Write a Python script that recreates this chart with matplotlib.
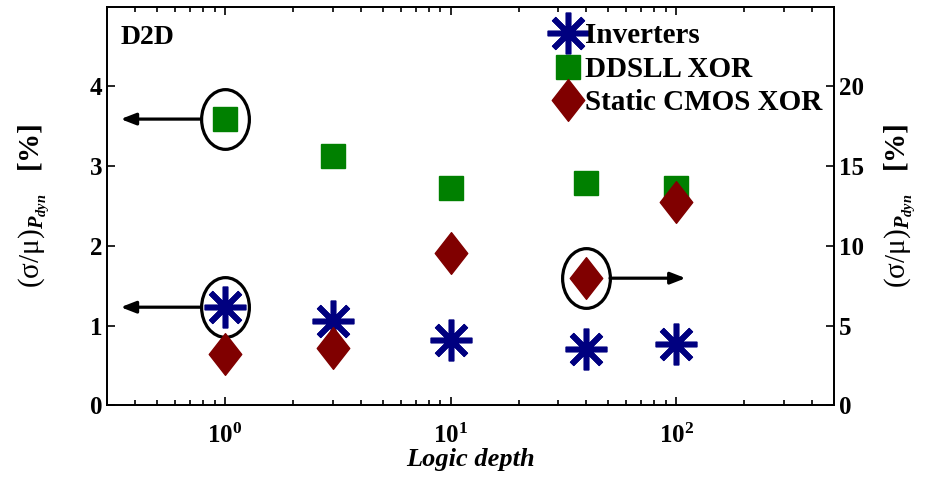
import matplotlib
matplotlib.use('Agg')
import numpy as np
import matplotlib.pyplot as plt
from matplotlib.path import Path
from matplotlib.transforms import Affine2D
from matplotlib.ticker import FuncFormatter

# data
logic_depth = [1, 3, 10, 40, 100]
inverters = [1.23, 1.06, 0.82, 0.71, 0.77]       # left axis, %
ddsll_xor = [3.59, 3.13, 2.73, 2.79, 2.72]       # left axis, %
static_cmos_xor = [3.22, 3.58, 9.57, 7.97, 12.78]  # right axis, %

left_ticks = [0, 1, 2, 3, 4]
right_ticks = [0, 5, 10, 15, 20]

plt.rcParams['font.family'] = ['Liberation Serif', 'DejaVu Serif']
plt.rcParams['font.weight'] = 'normal'
plt.rcParams['mathtext.fontset'] = 'custom'
plt.rcParams['mathtext.rm'] = 'Liberation Serif'
plt.rcParams['mathtext.it'] = 'Liberation Serif:italic'
plt.rcParams['mathtext.bf'] = 'Liberation Serif:bold'
plt.rcParams['mathtext.bfit'] = 'Liberation Serif:bold:italic'

navy = '#000080'
green = '#008000'
maroon = '#800000'

fig = plt.figure(figsize=(9.32, 4.79), dpi=100)
ax = fig.add_axes([0.1148, 0.154, 0.7800, 0.832])
ax2 = ax.twinx()

asterisk = (8, 2, 0)
ellipse = Path.unit_circle().transformed(Affine2D().scale(0.8, 1.0))
diamond = Path([(0, -0.5), (0.39, 0), (0, 0.5), (-0.39, 0), (0, -0.5)],
               [Path.MOVETO, Path.LINETO, Path.LINETO, Path.LINETO, Path.CLOSEPOLY])

ax.plot(logic_depth, ddsll_xor, linestyle='none', marker='s', ms=17,
        color=green, label='DDSLL XOR')
ax.plot(logic_depth, inverters, linestyle='none', marker=asterisk, ms=30,
        mew=4, color=navy, label='Inverters')
ax2.plot(logic_depth, static_cmos_xor, linestyle='none', marker=diamond, ms=30,
         color=maroon, label='Static CMOS XOR')

ax.set_xscale('log')
ax.set_xlim(0.3, 500)
ax.set_ylim(0, 5)
ax2.set_ylim(0, 25)
ax.set_yticks(left_ticks)
ax2.set_yticks(right_ticks)
ax.xaxis.set_major_formatter(
    FuncFormatter(lambda v, p: r'$\mathbf{10^{%d}}$' % round(np.log10(v))))

for a in (ax, ax2):
    a.tick_params(which='both', direction='in', labelsize=18, width=1.2)
    a.tick_params(which='major', length=6)
    a.tick_params(which='minor', length=3.5)
    for s in a.spines.values():
        s.set_linewidth(1.3)
ax.tick_params(which='both', top=True, right=False)
ax.tick_params(axis='x', pad=13)
for lab in ax.get_yticklabels() + ax2.get_yticklabels():
    lab.set_fontweight('bold')

ax.set_xlabel('Logic depth', fontsize=19, fontstyle='italic',
              fontweight='bold', labelpad=0)
ylab = (r'$\mathrm{(\sigma/\mu)}_{\mathbfit{P}_{\mathbfit{dyn}}}$'
        r'   $\mathbf{[\%]}$')
ax.set_ylabel(ylab, fontsize=21, labelpad=27)
ax2.set_ylabel(ylab, fontsize=21, labelpad=14)

ax.text(0.018, 0.955, 'D2D', transform=ax.transAxes, fontsize=20,
        fontweight='bold', va='top', ha='left')

# circled points with arrows toward their axis
ring = dict(linestyle='none', marker=ellipse, ms=43, mfc='none',
            mec='black', mew=2.3)
ax.plot(logic_depth[0], ddsll_xor[0], **ring)
ax.plot(logic_depth[0], inverters[0], **ring)
ax2.plot(logic_depth[3], static_cmos_xor[3], **ring)

arrow = dict(arrowstyle='-|>,head_length=0.9,head_width=0.35', color='black',
             lw=2.3, shrinkA=17, shrinkB=0)
ax.annotate('', xy=(0.345, ddsll_xor[0]), xytext=(logic_depth[0], ddsll_xor[0]),
            arrowprops=arrow)
ax.annotate('', xy=(0.345, inverters[0]), xytext=(logic_depth[0], inverters[0]),
            arrowprops=arrow)
ax2.annotate('', xy=(110, static_cmos_xor[3]),
             xytext=(logic_depth[3], static_cmos_xor[3]), arrowprops=arrow)

h1, l1 = ax.get_legend_handles_labels()
h2, l2 = ax2.get_legend_handles_labels()
handles = [h1[1], h1[0], h2[0]]
labels = [l1[1], l1[0], l2[0]]
ax2.legend(handles, labels, loc='upper right', frameon=False,
           handlelength=0.9, handletextpad=0.15, labelspacing=0.22,
           borderaxespad=0.0, bbox_to_anchor=(1.0, 0.99),
           prop={'weight': 'bold', 'size': 21})

fig.savefig('out.png', dpi=100)
